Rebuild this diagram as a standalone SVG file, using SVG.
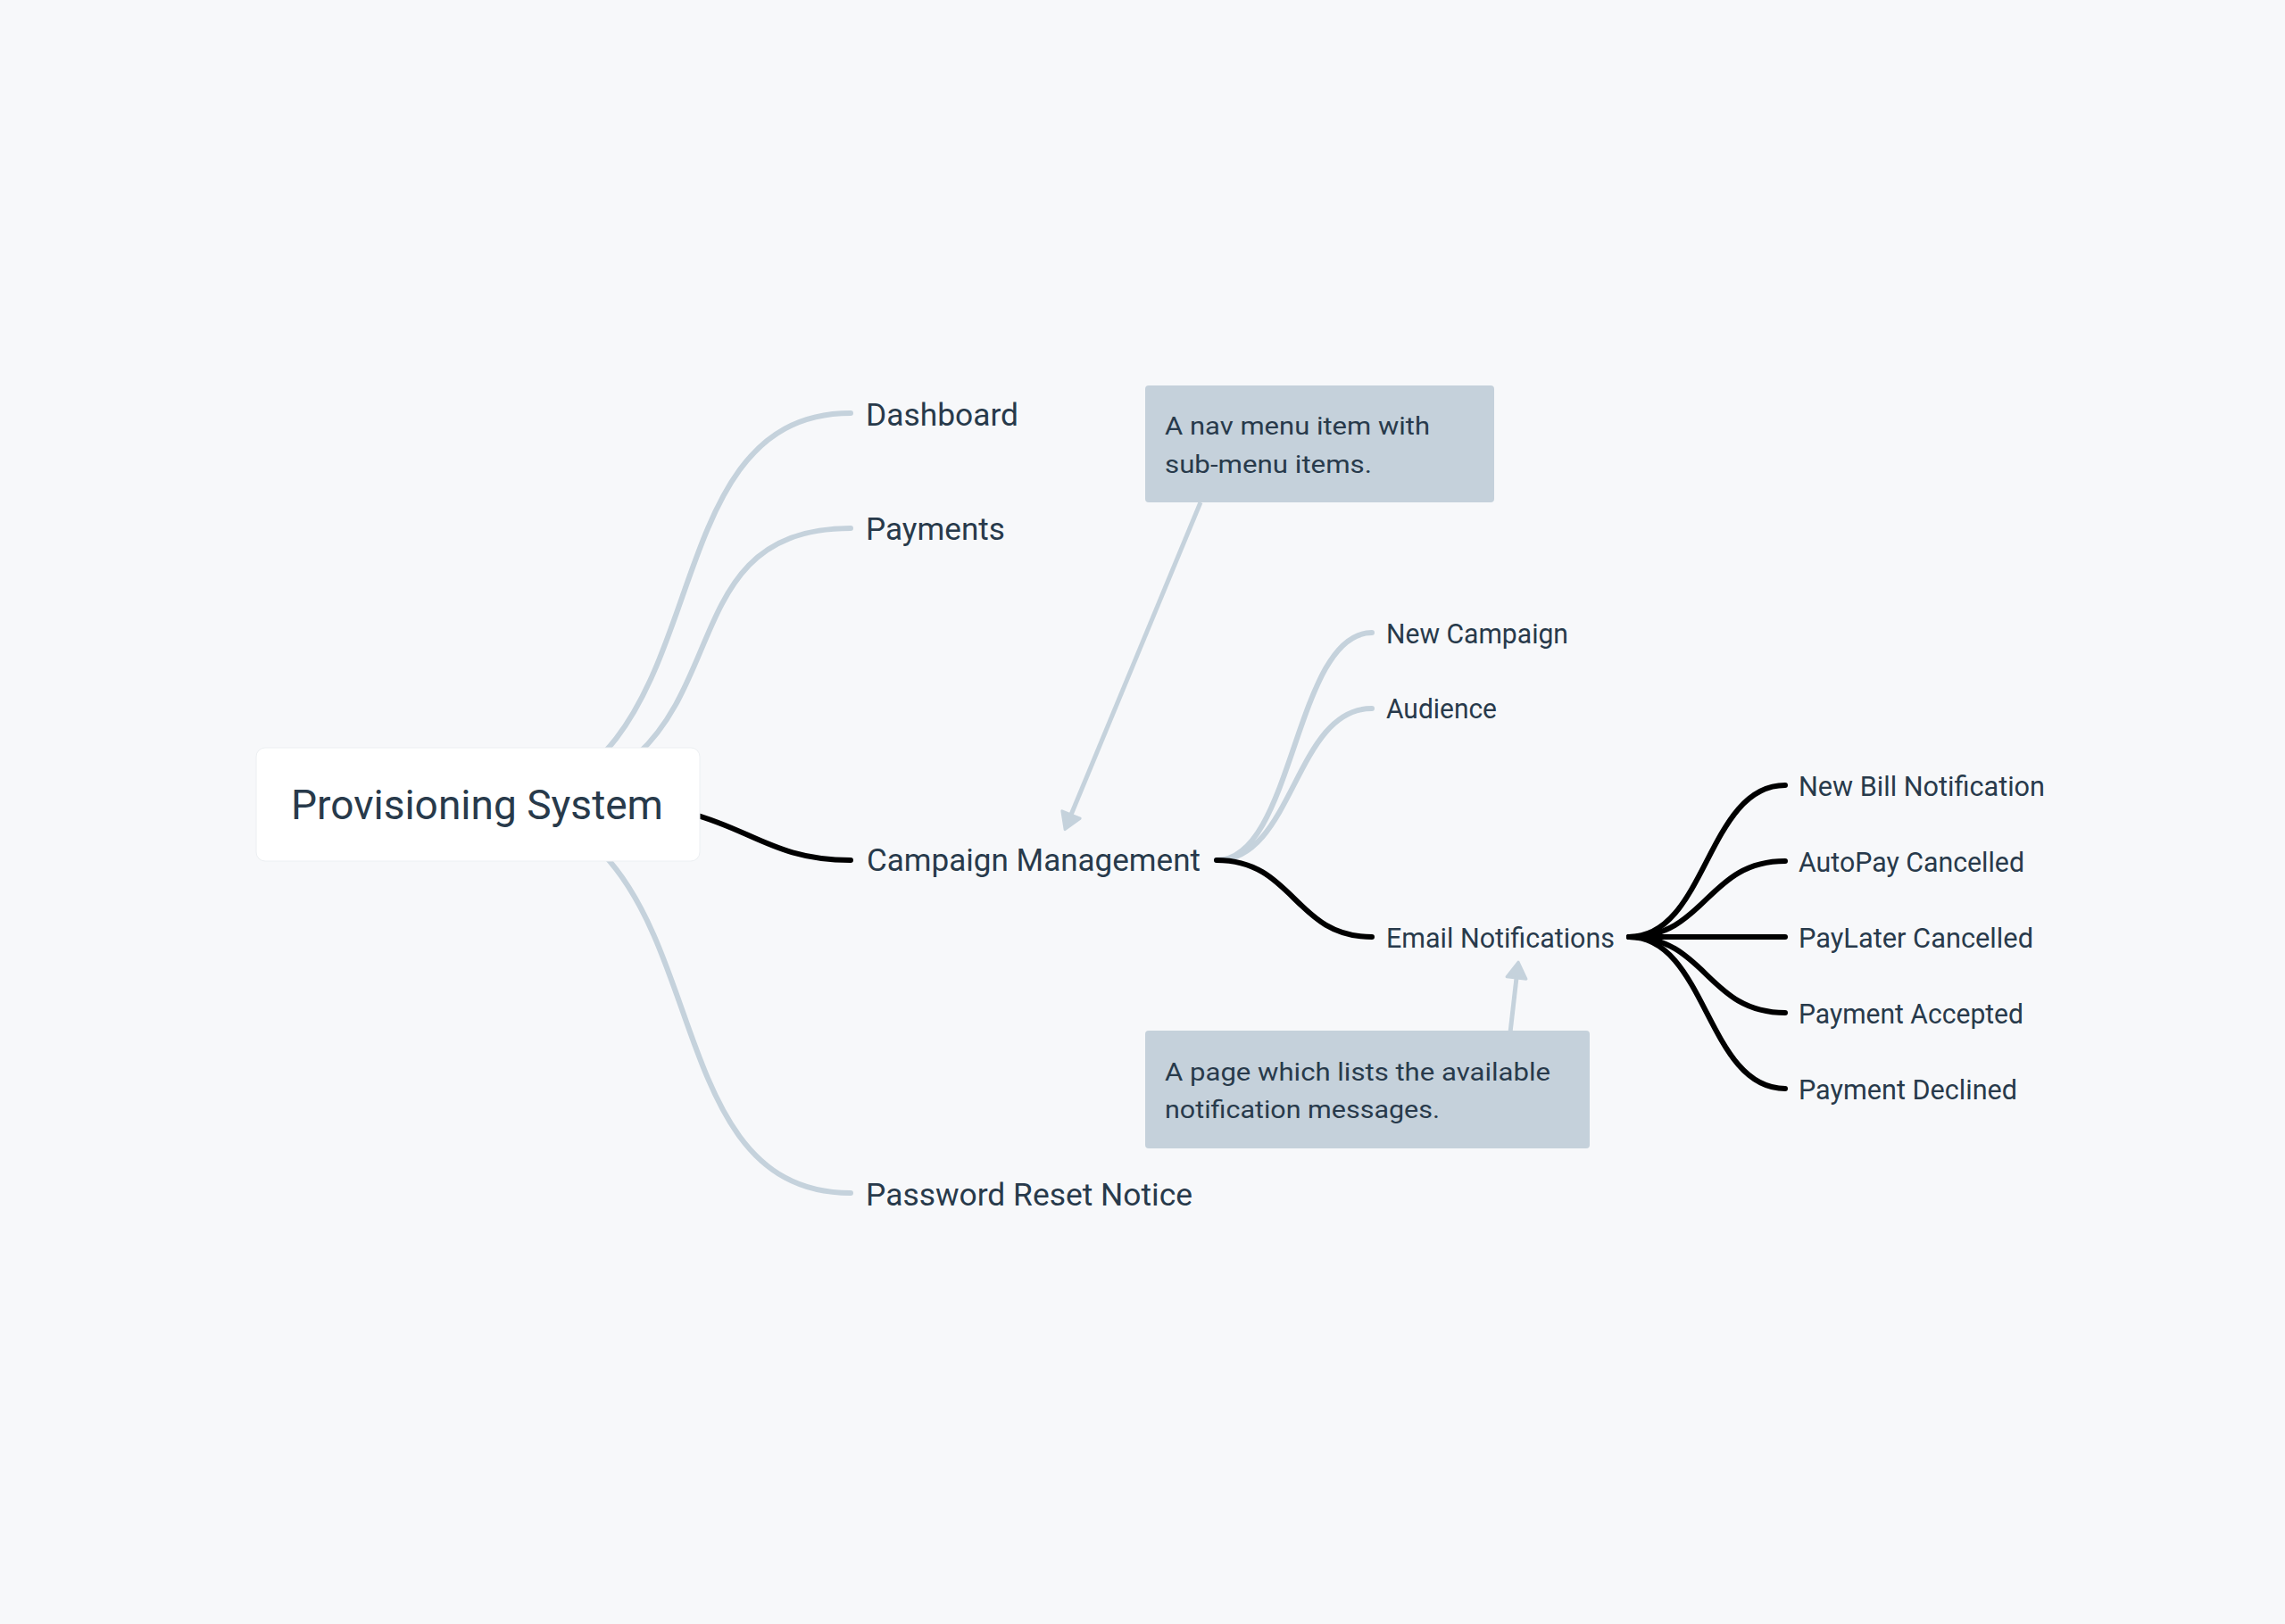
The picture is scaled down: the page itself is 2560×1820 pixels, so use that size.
<svg xmlns="http://www.w3.org/2000/svg" width="2560" height="1820" viewBox="0 0 2560 1820">
  <style>
    .t { font-family: Roboto, "Liberation Sans", Arial, sans-serif; fill: #283a4b; }
    .l0 { font-size: 46px; font-weight: 400; }
    .l1 { font-size: 35px; font-weight: 400; }
    .l2 { font-size: 31px; font-weight: 400; }
    .note { font-size: 28px; font-weight: 400; }
    .gray { fill: none; stroke: #c5d2dc; stroke-width: 6; stroke-linecap: round; }
    .dark { fill: none; stroke: #000000; stroke-width: 6; stroke-linecap: round; }
    .arrow { fill: none; stroke: #c5d2dc; stroke-width: 5; }
  </style>
  <defs>
    <marker id="ah" viewBox="0 -13 22 26" refX="0" refY="0" markerWidth="22" markerHeight="26" markerUnits="userSpaceOnUse" orient="auto" overflow="visible">
      <path d="M0,-11 L18,0 L0,11 Z" fill="#c5d2dc" stroke="#c5d2dc" stroke-width="3" stroke-linejoin="round"/>
    </marker>
  </defs>
  <rect x="0" y="0" width="2560" height="1820" fill="#f7f8fa"/>

  <g id="connectors">
    <path class="gray" d="M535,901 C820,901 710,463 953,463"/>
    <path class="gray" d="M535,901 C865,901 713,592 953,592"/>
    <path class="gray" d="M535,901 C820,901 710,1337 953,1337"/>
    <path class="dark" d="M680,901 C830,901 840,964 953,964"/>
    <path class="gray" d="M1363,964 C1450,964 1450,709 1537,709"/>
    <path class="gray" d="M1363,964 C1450,964 1450,794 1537,794"/>
    <path class="dark" d="M1363,964 C1450,964 1450,1050 1537,1050"/>
    <path class="dark" d="M1825,1050 C1912,1050 1912,880 2000,880"/>
    <path class="dark" d="M1825,1050 C1912,1050 1912,965 2000,965"/>
    <path class="dark" d="M1825,1050 L2000,1050"/>
    <path class="dark" d="M1825,1050 C1912,1050 1912,1135 2000,1135"/>
    <path class="dark" d="M1825,1050 C1912,1050 1912,1220 2000,1220"/>
    <path class="arrow" d="M1345,563 L1200,913" marker-end="url(#ah)"/>
    <path class="arrow" d="M1692,1157 L1699,1096" marker-end="url(#ah)"/>
  </g>

  <g id="root">
    <rect x="287" y="838" width="497" height="127" rx="10" fill="#ffffff" stroke="#eceff2" stroke-width="1"/>
    <text class="t l0" x="326" y="918" textLength="417" lengthAdjust="spacingAndGlyphs">Provisioning System</text>
  </g>
  <g id="dashboard">
    <text class="t l1" x="970" y="477" textLength="171" lengthAdjust="spacingAndGlyphs">Dashboard</text>
  </g>
  <g id="payments">
    <text class="t l1" x="970" y="605" textLength="156" lengthAdjust="spacingAndGlyphs">Payments</text>
  </g>
  <g id="campaign-management">
    <text class="t l1" x="971" y="976" textLength="374" lengthAdjust="spacingAndGlyphs">Campaign Management</text>
  </g>
  <g id="password-reset-notice">
    <text class="t l1" x="970" y="1351" textLength="366" lengthAdjust="spacingAndGlyphs">Password Reset Notice</text>
  </g>
  <g id="new-campaign">
    <text class="t l2" x="1553" y="721" textLength="204" lengthAdjust="spacingAndGlyphs">New Campaign</text>
  </g>
  <g id="audience">
    <text class="t l2" x="1553" y="805" textLength="124" lengthAdjust="spacingAndGlyphs">Audience</text>
  </g>
  <g id="email-notifications">
    <text class="t l2" x="1553" y="1062" textLength="256" lengthAdjust="spacingAndGlyphs">Email Notifications</text>
  </g>
  <g id="new-bill-notification">
    <text class="t l2" x="2015" y="892" textLength="276" lengthAdjust="spacingAndGlyphs">New Bill Notification</text>
  </g>
  <g id="autopay-cancelled">
    <text class="t l2" x="2015" y="977" textLength="253" lengthAdjust="spacingAndGlyphs">AutoPay Cancelled</text>
  </g>
  <g id="paylater-cancelled">
    <text class="t l2" x="2015" y="1062" textLength="263" lengthAdjust="spacingAndGlyphs">PayLater Cancelled</text>
  </g>
  <g id="payment-accepted">
    <text class="t l2" x="2015" y="1147" textLength="252" lengthAdjust="spacingAndGlyphs">Payment Accepted</text>
  </g>
  <g id="payment-declined">
    <text class="t l2" x="2015" y="1232" textLength="245" lengthAdjust="spacingAndGlyphs">Payment Declined</text>
  </g>
  <g id="note-nav-menu">
    <rect x="1283" y="432" width="391" height="131" rx="4" fill="#c5d1db"/>
    <text class="t note" x="1305" y="487" textLength="297" lengthAdjust="spacingAndGlyphs">A nav menu item with</text>
    <text class="t note" x="1305" y="530" textLength="232" lengthAdjust="spacingAndGlyphs">sub-menu items.</text>
  </g>
  <g id="note-email-page">
    <rect x="1283" y="1155" width="498" height="132" rx="4" fill="#c5d1db"/>
    <text class="t note" x="1305" y="1211" textLength="432" lengthAdjust="spacingAndGlyphs">A page which lists the available</text>
    <text class="t note" x="1305" y="1253" textLength="308" lengthAdjust="spacingAndGlyphs">notification messages.</text>
  </g>
</svg>
